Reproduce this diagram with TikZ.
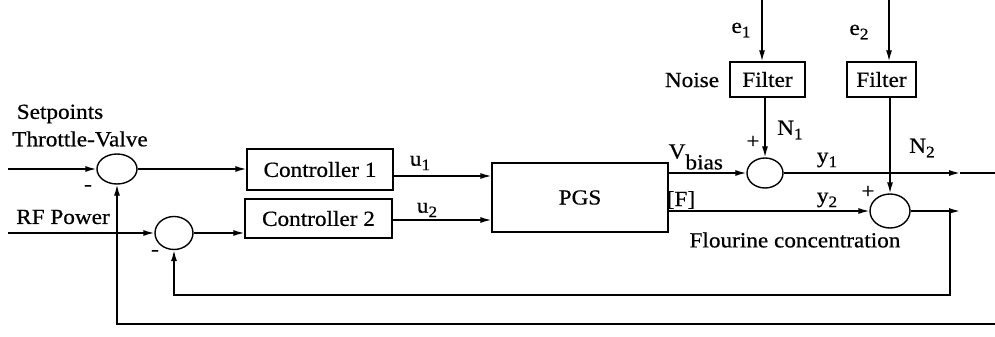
\documentclass[tikz,border=0pt]{standalone}
\usepackage{fontspec}
\setmainfont[FakeStretch=1.08,FakeBold=0.6]{Liberation Serif}
\usetikzlibrary{arrows.meta,shapes.geometric}
\newcommand{\sbs}[1]{\raisebox{-0.45ex}{\fontsize{16}{16}\selectfont #1}}
\begin{document}
\begin{tikzpicture}[x=1pt,y=-1pt,
  line width=1.4pt,
  every node/.style={font=\fontsize{21.5}{24}\selectfont, inner sep=0pt},
  blk/.style={draw, rectangle, line width=1.4pt},
  sumj/.style={draw, ellipse, line width=1.4pt},
  arr/.style={-{Latex[length=11pt,width=6pt]}},
  lbl/.style={}]
\useasboundingbox (0,0) rectangle (995,337);
% blocks
\node[blk, minimum width=146pt, minimum height=41pt] (C1) at (320,169.5) {\raisebox{-5pt}{Controller 1}};
\node[blk, minimum width=147pt, minimum height=39pt] (C2) at (318.5,218.5) {\raisebox{-9pt}{Controller 2}};
\node[blk, minimum width=176pt, minimum height=69pt] (PGS) at (580,197.5) {PGS};
\node[blk, minimum width=75pt, minimum height=35pt] (F1) at (767.5,79.5) {Filter};
\node[blk, minimum width=69pt, minimum height=35pt] (F2) at (881.5,79.5) {Filter};
% sums
\node[sumj, minimum width=40pt, minimum height=30pt] (S1) at (117,169) {};
\node[sumj, minimum width=38pt, minimum height=33pt] (S2) at (174,233) {};
\node[sumj, minimum width=36pt, minimum height=30pt] (S3) at (765,173) {};
\node[sumj, minimum width=40pt, minimum height=34pt] (S4) at (890,211) {};
% free ends
\coordinate (in1) at (8,169);
\coordinate (in2) at (8,233);
\coordinate (e1top) at (762,0);
\coordinate (e2top) at (889,0);
\coordinate (out1) at (960,173);
\coordinate (out1end) at (995,173);
\coordinate (out2) at (960,211);
\coordinate (br) at (950,211);
\coordinate (fb1) at (950,295);
\coordinate (fb2) at (995,324);
% connectors
\draw[arr] (in1) -- (S1.west);
\draw[arr] (S1.east) -- (S1.east -| C1.west);
\draw[arr] (in2) -- (S2.west);
\draw[arr] (S2.east) -- (S2.east -| C2.west);
\draw[arr] (C1.east |- 0,176) -- (PGS.west |- 0,176);
\draw[arr] (C2.east |- 0,220) -- (PGS.west |- 0,220);
\draw[arr] (PGS.east |- S3.west) -- (S3.west);
\draw[arr] (PGS.east |- S4.west) -- (S4.west);
\draw[arr] (e1top) -- (e1top |- F1.north);
\draw[arr] (S3.north |- F1.south) -- (S3.north);
\draw[arr] (e2top) -- (e2top |- F2.north);
\draw[arr] (S4.north |- F2.south) -- (S4.north);
\draw[arr] (S3.east) -- (out1);
\draw (out1) -- (out1end);
\draw[arr] (S4.east) -- (out2);
\draw[arr] (br) -- (fb1) -- (fb1 -| S2.south) -- (S2.south);
\draw[arr] (fb2) -- (fb2 -| S1.south) -- (S1.south);
% labels
\node[lbl] (t1) at (60,114) {Setpoints};
\node[lbl] (t2) at (80,139) {Throttle-Valve};
\node[lbl] (t3) at (63,217) {RF Power};
\node[lbl] (m1) at (88,188) {-};
\node[lbl] (m2) at (155,253) {-};
\node[lbl] (u1) at (420,163) {u\sbs{1}};
\node[lbl] (u2) at (427,210) {u\sbs{2}};
\node[lbl, anchor=west] (vb) at (668,157) {V\raisebox{-1.1ex}{bias}};
\node[lbl] (fl) at (681,200) {[F]};
\node[lbl] (ns) at (692,80) {Noise};
\node[lbl] (e1) at (741,30) {e\sbs{1}};
\node[lbl] (e2) at (859,32) {e\sbs{2}};
\node[lbl] (p1) at (753,142) {+};
\node[lbl] (p2) at (868,192) {+};
\node[lbl] (n1) at (790,130) {N\sbs{1}};
\node[lbl] (n2) at (922,148) {N\sbs{2}};
\node[lbl] (y1) at (827,160) {y\sbs{1}};
\node[lbl] (y2) at (827,200) {y\sbs{2}};
\node[lbl] (fc) at (795,240) {Flourine concentration};
\end{tikzpicture}
\end{document}
